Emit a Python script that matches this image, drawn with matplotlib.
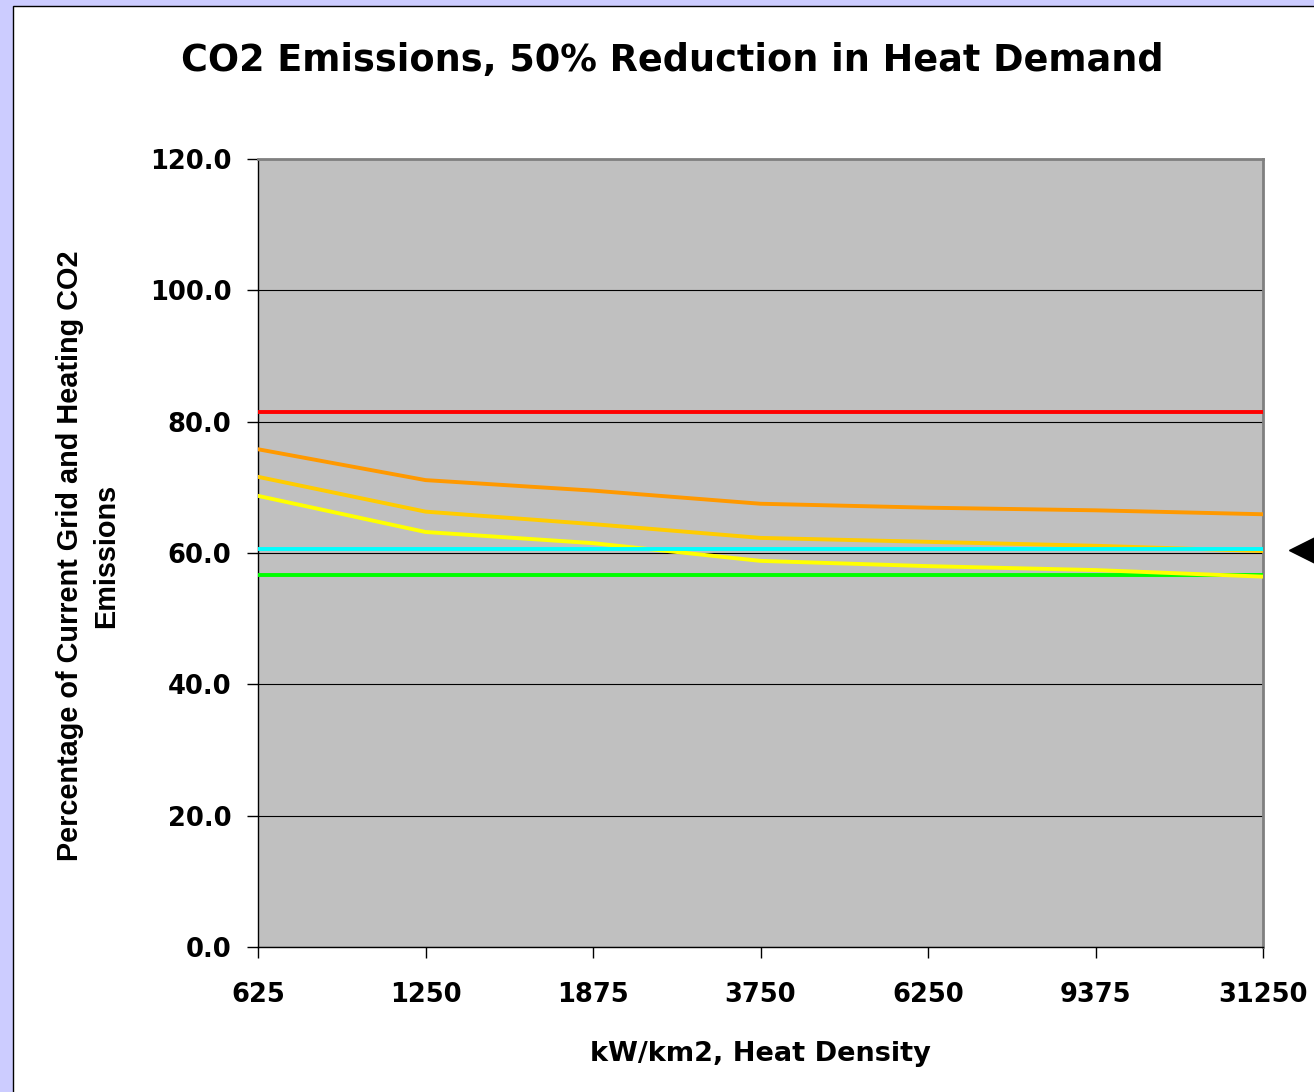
import matplotlib.pyplot as plt
from matplotlib.patches import Rectangle
from matplotlib.lines import Line2D

plt.rcParams['font.family'] = ['DejaVu Sans']

# heat density categories (kW/km2)
categories = ["625", "1250", "1875", "3750", "6250", "9375", "31250"]

# percentage of current grid and heating CO2 emissions
red_series = [81.5, 81.5, 81.5, 81.5, 81.5, 81.5, 81.5]
orange_series = [75.8, 71.1, 69.5, 67.5, 66.9, 66.5, 65.9]
gold_series = [71.6, 66.3, 64.4, 62.3, 61.7, 61.1, 60.3]
yellow_series = [68.7, 63.2, 61.5, 58.8, 58.0, 57.4, 56.4]
cyan_series = [60.6, 60.6, 60.6, 60.6, 60.6, 60.6, 60.6]
green_series = [56.7, 56.7, 56.7, 56.7, 56.7, 56.7, 56.7]

yticks = [0, 20, 40, 60, 80, 100, 120]

W, H = 1314, 1092
fig = plt.figure(figsize=(W / 100, H / 100), dpi=100)
fig.patch.set_facecolor('#CCCCFF')

# white chart panel with thin black border
panel = Rectangle((13 / W, -0.01), 1.0, 1 - 6 / H + 0.01, transform=fig.transFigure,
                  facecolor='white', edgecolor='black', linewidth=1, zorder=-10)
fig.patches.append(panel)

ax = fig.add_axes([258 / W, 1 - 947 / H, (1263 - 258) / W, (947 - 159) / H])
ax.set_facecolor('#C0C0C0')

x = list(range(len(categories)))
lw = 2.8
ax.plot(x, red_series, color='#FF0000', lw=lw, zorder=3)
ax.plot(x, orange_series, color='#FF9900', lw=lw, zorder=3)
ax.plot(x, gold_series, color='#FFCC00', lw=lw, zorder=3)
ax.plot(x, green_series, color='#00FF00', lw=lw, zorder=3)
ax.plot(x, yellow_series, color='#FFFF00', lw=lw, zorder=3)
ax.plot(x, cyan_series, color='#00FFFF', lw=lw, zorder=3)

ax.set_xlim(0, len(categories) - 1)
ax.set_ylim(0, 120)
ax.set_xticks(x)
ax.set_xticklabels(categories)
ax.set_yticks(yticks)
ax.set_yticklabels([f"{v:.1f}" for v in yticks])

ax.grid(axis='y', color='black', linewidth=0.8, zorder=1)
ax.set_axisbelow(True)

for side in ['left', 'bottom']:
    ax.spines[side].set_color('black')
    ax.spines[side].set_linewidth(1)
for side in ['top', 'right']:
    ax.spines[side].set_color('#808080')
    ax.spines[side].set_linewidth(2)

ax.tick_params(axis='both', direction='out', length=8, width=1, color='black',
               labelsize=18.5)
ax.tick_params(axis='y', pad=11)
ax.tick_params(axis='x', pad=17)
for lab in ax.get_xticklabels() + ax.get_yticklabels():
    lab.set_fontweight('bold')

ax.set_xlabel('kW/km2, Heat Density', fontsize=19.5, fontweight='bold', labelpad=24)

fig.text(88 / W, 1 - 556 / H,
         'Percentage of Current Grid and Heating CO2\nEmissions',
         rotation=90, ha='center', va='center', multialignment='center',
         fontsize=20.8, fontweight='bold', linespacing=1.35,
         family='Liberation Sans')

fig.text(672 / W, 1 - 60 / H, 'CO2 Emissions, 50% Reduction in Heat Demand',
         ha='center', va='center', fontsize=26.4, fontweight='bold')

# legend marker cut off at the right edge
fig.add_artist(Line2D([1302 / W], [1 - 550 / H], marker='<', markersize=19,
                      color='black', transform=fig.transFigure))

fig.savefig('out.png', dpi=100, facecolor=fig.get_facecolor())
